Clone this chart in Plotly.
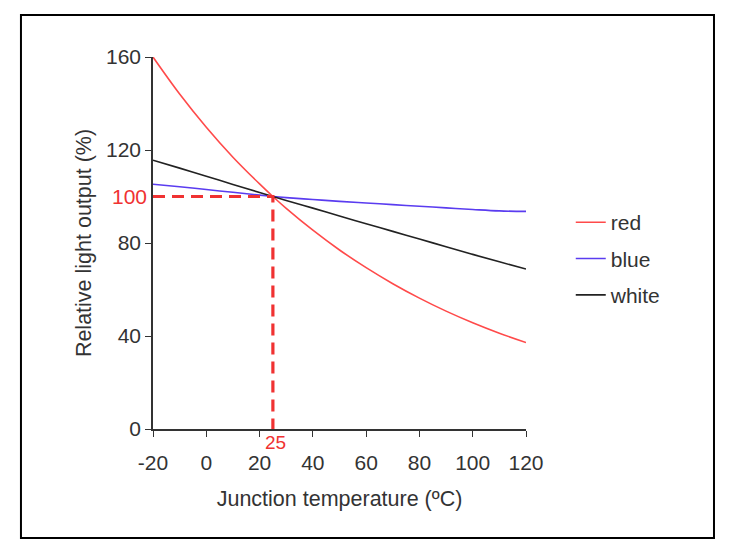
import plotly.graph_objects as go

# junction temperature (degC) and relative light output (%)
temp = [-20, -10, 0, 10, 20, 25, 30, 40, 50, 60, 70, 80, 90, 100, 110, 120]
red = [160, 144.1, 129.8, 116.9, 105.4, 100, 94.9, 85.5, 77.0, 69.4, 62.5, 56.3, 50.7, 45.7, 41.2, 37.2]
blue = [105.3, 104.2, 103.0, 101.8, 100.6, 100, 99.5, 98.7, 97.9, 97.2, 96.5, 95.8, 95.1, 94.4, 93.8, 93.6]
white = [115.6, 112.2, 108.7, 105.2, 101.7, 100, 98.3, 95, 91.6, 88.3, 85, 81.7, 78.4, 75.1, 71.9, 68.8]

ref_temp = 25
ref_output = 100

x_ticks = [-20, 0, 20, 40, 60, 80, 100, 120]
x_labels = ["-20", "0", "20", "40", "60", "80", "100", "120"]
y_ticks = [0, 40, 80, 120, 160]

font = "Liberation Sans, Arial, sans-serif"
ink = "#333333"

fig = go.Figure()

fig.add_trace(go.Scatter(x=temp, y=red, mode="lines", name="red", legendgroup="r",
                         line=dict(color="#ff4a4a", width=1.6, shape="spline")))
fig.add_trace(go.Scatter(x=temp, y=blue, mode="lines", name="blue", legendgroup="b",
                         line=dict(color="#5a3cf0", width=1.6, shape="spline")))
fig.add_trace(go.Scatter(x=temp, y=white, mode="lines", name="white", legendgroup="w",
                         line=dict(color="#222222", width=1.6, shape="spline")))

# red dashed reference lines at 25 degC / 100 %
fig.add_trace(go.Scatter(x=[temp[0], ref_temp, ref_temp], y=[ref_output, ref_output, 0],
                         mode="lines", showlegend=False, hoverinfo="skip",
                         line=dict(color="#f03232", width=3.2, dash="12px,7px")))

fig.add_annotation(x=temp[0], y=ref_output, text="100", showarrow=False,
                   xanchor="right", xshift=-4, font=dict(family=font, size=21, color="#f03232"))
fig.add_annotation(x=ref_temp, y=0, text="25", showarrow=False,
                   yanchor="top", xshift=3, yshift=-1, font=dict(family=font, size=19, color="#f03232"))

# outer frame
fig.add_shape(type="rect", xref="paper", yref="paper",
              x0=-0.354, x1=1.504, y0=-0.293, y1=1.113,
              line=dict(color="black", width=2))

fig.update_xaxes(range=[-20, 120], tickvals=x_ticks, ticktext=x_labels,
                 ticks="outside", ticklen=6, ticklabelstandoff=8,
                 tickcolor=ink, showline=True, linecolor=ink, linewidth=1.5,
                 showgrid=False, zeroline=False,
                 tickfont=dict(family=font, size=21, color=ink),
                 title=dict(text="Junction temperature (ºC)", standoff=18,
                            font=dict(family=font, size=21.5, color=ink)))
fig.update_yaxes(range=[0, 160], tickvals=y_ticks, ticks="outside", ticklen=6,
                 tickcolor=ink, showline=True, linecolor=ink, linewidth=1.5,
                 showgrid=False, zeroline=False,
                 tickfont=dict(family=font, size=21, color=ink),
                 title=dict(text="Relative light output (%)", standoff=8,
                            font=dict(family=font, size=21.5, color=ink)))

# the page adds ~8px around the figure, so the margins are shifted to compensate
fig.update_layout(width=740, height=554,
                  margin=dict(l=145, r=222, t=49, b=133, autoexpand=False),
                  plot_bgcolor="white", paper_bgcolor="white",
                  showlegend=True,
                  legend=dict(x=1.12, y=0.61, xanchor="left", yanchor="top",
                              tracegroupgap=6,
                              font=dict(family=font, size=21, color=ink),
                              bgcolor="rgba(0,0,0,0)"))

fig.write_html("out.html")
